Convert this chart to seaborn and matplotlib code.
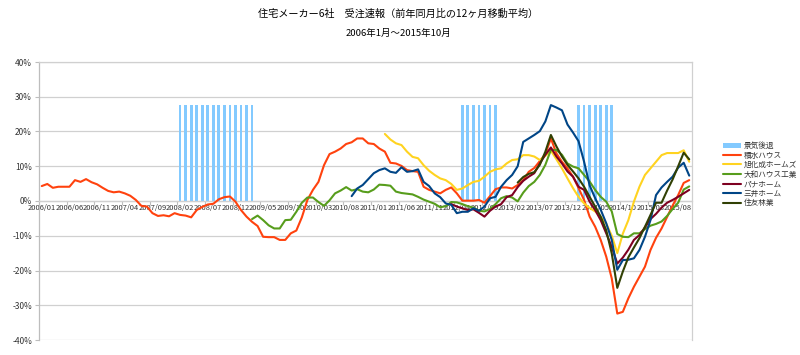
import numpy as np
import pandas as pd
import matplotlib
matplotlib.use("Agg")
import matplotlib.pyplot as plt
from matplotlib.lines import Line2D
from matplotlib.patches import Patch
import seaborn as sns

# TEXT
TITLE = "住宅メーカー6社　受注速報（前年同月比の12ヶ月移動平均）"
SUBTITLE = "2006年1月～2015年10月"

# CATEGORIES: monthly, 2006/01 .. 2015/10
MONTHS = [f"{2006 + k // 12}/{k % 12 + 1:02d}" for k in range(118)]
TICK_LABELS = MONTHS[::5]
Y_TICKS = [-40, -30, -20, -10, 0, 10, 20, 30, 40]

# recession bars (景気後退)
RECESSION_PERIODS = [("2008/02", "2009/03"), ("2012/05", "2012/11"), ("2014/02", "2014/08")]
RECESSION_HEIGHT = 27.5

# SERIES (% yoy, 12-month moving average), NaN before each series starts
sekisui = [4.3, 4.9, 3.8, 4.1, 4.1, 4.1, 6.0, 5.5, 6.3, 5.4,
           4.8, 3.8, 2.9, 2.5, 2.7, 2.2, 1.5, 0.3, -1.4, -1.6,
           -3.5, -4.3, -4.1, -4.4, -3.5, -4.0, -4.2, -4.7, -2.6, -1.7,
           -1.0, -0.8, 0.5, 1.1, 1.3, -0.2, -2.6, -4.5, -6.0, -7.2,
           -10.3, -10.4, -10.4, -11.2, -11.2, -9.3, -8.5, -4.7, 0.3, 3.2,
           5.5, 10.3, 13.5, 14.2, 15.1, 16.4, 16.9, 18.0, 18.0, 16.6,
           16.4, 15.1, 14.2, 11.0, 10.8, 10.1, 8.9, 8.6, 8.4, 4.1,
           3.2, 2.7, 2.2, 3.2, 3.9, 2.2, 0.1, 0.1, 0.1, 0.3,
           -0.5, 1.4, 3.4, 3.9, 3.9, 3.6, 4.6, 6.0, 8.4, 9.5,
           11.5, 13.5, 18.0, 13.7, 11.3, 9.4, 7.0, 3.7, 0.3, -4.5,
           -7.4, -11.2, -16.0, -22.3, -32.4, -31.9, -28.0, -24.7, -21.8, -18.9,
           -14.1, -10.6, -7.9, -4.6, -1.3, 1.7, 5.2, 6.0]

asahi = [np.nan] * 62 + [
    19.3, 17.7, 16.6, 16.1, 14.2, 12.7, 12.3, 10.3, 8.7, 7.5,
    6.5, 6.0, 4.9, 3.2, 3.6, 4.6, 5.5, 5.8, 7.0, 8.4,
    9.1, 9.4, 10.8, 11.8, 12.0, 13.2, 13.2, 12.8, 11.8, 13.0,
    14.5, 12.0, 9.4, 6.5, 3.7, 1.2, -0.7, -2.0, -3.0, -4.5,
    -6.5, -10.0, -15.0, -9.4, -5.5, -0.2, 4.1, 7.5, 9.4, 11.3,
    13.2, 13.8, 13.8, 13.8, 14.6, 11.3]

daiwa = [np.nan] * 38 + [
    -5.2, -4.2, -5.5, -7.0, -7.9, -7.9, -5.5, -5.4, -3.1, -0.5,
    1.0, 1.0, -0.3, -1.4, 0.2, 2.2, 3.0, 4.0, 3.0, 3.4,
    2.7, 2.5, 3.3, 4.7, 4.6, 4.4, 2.7, 2.3, 2.1, 1.9,
    1.2, 0.4, -0.2, -0.8, -1.8, -1.5, -0.3, -0.4, -0.9, -1.5,
    -1.9, -2.8, -3.0, -2.3, -0.9, 0.8, 1.4, 1.0, -0.1, 2.4,
    4.3, 5.5, 7.5, 10.4, 14.7, 14.7, 13.3, 10.8, 9.9, 9.4,
    7.5, 5.6, 3.2, 1.2, -0.2, -3.0, -9.5, -10.3, -10.4, -9.3,
    -9.3, -8.1, -7.1, -6.6, -5.9, -4.3, -2.3, -0.5, 3.3, 4.2]

pana = [np.nan] * 74 + [
    -0.9, -1.6, -2.1, -2.6, -2.4, -3.4, -4.5, -2.8, -1.6, -0.9,
    1.1, 1.7, 4.0, 5.8, 7.0, 8.0, 10.8, 13.3, 15.4, 12.8,
    10.8, 8.5, 7.0, 4.1, 3.2, -0.2, -2.6, -5.5, -9.3, -13.2,
    -18.0, -16.3, -14.0, -11.2, -9.8, -7.6, -5.2, -3.7, -1.9, -0.5,
    0.3, 1.2, 2.2, 3.2]

mitsui = [np.nan] * 56 + [
    1.4, 3.6, 4.6, 6.3, 8.0, 8.9, 9.4, 8.4, 8.1, 9.7,
    8.4, 8.6, 9.1, 5.5, 4.3, 2.2, 1.1, -0.7, -1.1, -3.5,
    -3.1, -3.1, -2.1, -2.8, -1.6, 0.8, 1.2, 4.1, 6.0, 7.5,
    10.0, 17.0, 18.0, 19.0, 20.1, 22.9, 27.6, 26.9, 26.1, 22.0,
    19.7, 17.2, 11.3, 4.5, 0.8, -2.5, -6.4, -11.2, -19.8, -17.0,
    -16.9, -16.5, -14.1, -10.3, -5.5, 1.7, 3.9, 5.5, 7.0, 9.6,
    11.0, 7.3]

sumitomo = [np.nan] * 86 + [
    5.3, 6.9, 7.8, 8.3, 10.4, 14.2, 19.0, 15.7, 12.8, 10.4,
    8.5, 6.5, 4.1, 1.2, -1.6, -4.5, -8.4, -15.1, -25.0, -20.3,
    -16.2, -13.4, -10.7, -7.4, -4.0, -0.5, -0.5, 3.0, 6.2, 10.0,
    13.9, 12.0]

SERIES_NAMES = ["積水ハウス", "旭化成ホームズ", "大和ハウス工業", "パナホーム", "三井ホーム", "住友林業"]
SERIES_VALUES = [sekisui, asahi, daiwa, pana, mitsui, sumitomo]

BAR_LABEL = "景気後退"
BAR_COLOR = "#83caff"
COLORS = {
    "積水ハウス":     "#ff420e",
    "旭化成ホームズ": "#ffd320",
    "大和ハウス工業": "#579d1c",
    "パナホーム":     "#7e0021",
    "三井ホーム":     "#004586",
    "住友林業":       "#314004",
}
GRID = "#d0d0d0"
TEXT = "#333333"

# BUILD TABLES
frames = []
for name, vals in zip(SERIES_NAMES, SERIES_VALUES):
    frames.append(pd.DataFrame({"idx": np.arange(len(MONTHS)), "value": vals, "series": name}))
lines_df = pd.concat(frames).dropna()

rec_idx = []
for start, end in RECESSION_PERIODS:
    rec_idx += list(range(MONTHS.index(start), MONTHS.index(end) + 1))
bars_df = pd.DataFrame({"idx": rec_idx, "value": RECESSION_HEIGHT})

# PLOT
sns.set_theme(style="white")
plt.rcParams["font.family"] = ["Noto Sans CJK JP", "DejaVu Sans"]

fig, ax = plt.subplots(figsize=(8, 3.55), dpi=100)
fig.subplots_adjust(left=39 / 800, right=692 / 800, top=1 - 62 / 355, bottom=1 - 340 / 355)

sns.barplot(data=bars_df, x="idx", y="value", native_scale=True, width=0.5,
            color=BAR_COLOR, saturation=1, errorbar=None, linewidth=0,
            ax=ax, zorder=2)
sns.lineplot(data=lines_df, x="idx", y="value", hue="series",
             hue_order=SERIES_NAMES, palette=COLORS, linewidth=1.5,
             estimator=None, legend=False, ax=ax, zorder=3)

ax.set_xlim(-0.5, len(MONTHS) - 0.5)
ax.set_ylim(-40, 40)
ax.set_xlabel("")
ax.set_ylabel("")

ax.set_yticks(Y_TICKS)
ax.set_yticklabels([f"{v}%" for v in Y_TICKS])
ax.yaxis.grid(True, color=GRID, linewidth=0.9)
ax.xaxis.grid(False)
ax.set_axisbelow(True)

ax.set_xticks(range(0, len(MONTHS), 5))
ax.set_xticklabels(TICK_LABELS)
ax.set_xticks(np.arange(4.5, len(MONTHS), 5), minor=True)

for side in ["left", "right", "top", "bottom"]:
    ax.spines[side].set_color(GRID)
    ax.spines[side].set_linewidth(0.9)
ax.spines["left"].set_color("#bdbdbd")
ax.spines["bottom"].set_position(("data", 0))

ax.tick_params(axis="y", left=True, length=3, width=0.8, color="#bdbdbd",
               labelsize=6, labelcolor=TEXT, pad=2)
ax.tick_params(axis="x", which="major", bottom=True, length=0,
               labelsize=5.4, labelcolor=TEXT, pad=2.5)
ax.tick_params(axis="x", which="minor", bottom=True, length=3, width=0.8, color="#bdbdbd")

# legend
handles = [Patch(facecolor=BAR_COLOR, edgecolor="none", label=BAR_LABEL)]
handles += [Line2D([0], [0], color=COLORS[n], lw=1.5, label=n) for n in SERIES_NAMES]
leg = fig.legend(handles=handles, loc="upper left", bbox_to_anchor=(723 / 800, 1 - 142 / 355),
                 frameon=False, fontsize=5.5, handlelength=2.3, handleheight=0.6,
                 handletextpad=0.4, labelspacing=0.2, borderaxespad=0, borderpad=0)
for t in leg.get_texts():
    t.set_color(TEXT)

fig.text(0.498, 1 - 14 / 355, TITLE, ha="center", va="center", fontsize=7.3, color="black")
fig.text(0.498, 1 - 33 / 355, SUBTITLE, ha="center", va="center", fontsize=6.8, color="black")

fig.savefig("out.png", dpi=100)
